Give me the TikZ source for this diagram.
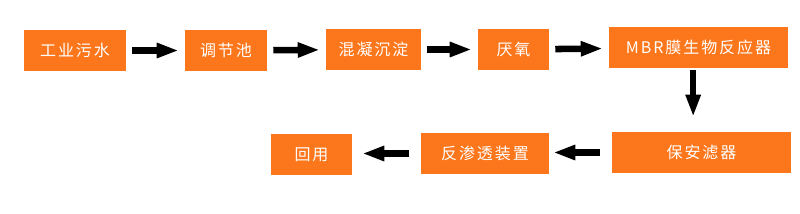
\documentclass[tikz,border=0pt]{standalone}
\usepackage{fontspec}
\setmainfont{Noto Sans CJK SC}[LetterSpace=12]
\usetikzlibrary{arrows.meta}
\definecolor{boxorange}{RGB}{252,118,27}
\tikzset{
  box/.style={fill=boxorange, text=white, minimum height=30.75pt, inner sep=0pt,
    font=\fontsize{12pt}{14pt}\selectfont},
  flow/.style={-{Triangle[length=16.5pt, width=10.5pt]}, line width=4.9pt,
    shorten <=4.5pt, shorten >=4.5pt},
}
\begin{document}
\begin{tikzpicture}[x=0.75pt, y=-0.75pt]
    \useasboundingbox (0,0) rectangle (800,214);
    % Top row
    \node[box, minimum width=76.5pt] (ww) at (75,50.5) {工业污水};
    \node[box, minimum width=61.5pt] (tank) at (226,50.5) {调节池};
    \node[box, minimum width=71.25pt] (coag) at (373.5,49.5) {混凝沉淀};
    \node[box, minimum width=53.25pt] (anaer) at (513.5,49.5) {厌氧};
    \node[box, minimum width=134.25pt] (mbr) at (698.5,47.5) {MBR膜生物反应器};
    % Bottom row
    \node[box, minimum width=134.25pt] (safe) at (701.5,152.5) {保安滤器};
    \node[box, minimum width=96pt] (ro) at (485,153.5) {反渗透装置};
    \node[box, minimum width=60.75pt] (reuse) at (311.5,154.5) {回用};
    % Top arrows
    \draw[flow] (ww) -- (tank);
    \draw[flow] (tank) -- (coag);
    \draw[flow] (coag) -- (anaer);
    \draw[flow] (anaer) -- (mbr);
    % Down arrow
    \draw[flow, shorten <=1.5pt, shorten >=11.25pt] ([xshift=-4pt]mbr.south) -- ([xshift=-4pt]mbr.south |- safe.north);
    % Bottom arrows
    \draw[flow, shorten <=9pt, shorten >=3pt] (safe) -- (safe -| ro.east);
    \draw[flow, shorten <=9pt, shorten >=7.5pt] (ro) -- (ro -| reuse.east);
\end{tikzpicture}
\end{document}
